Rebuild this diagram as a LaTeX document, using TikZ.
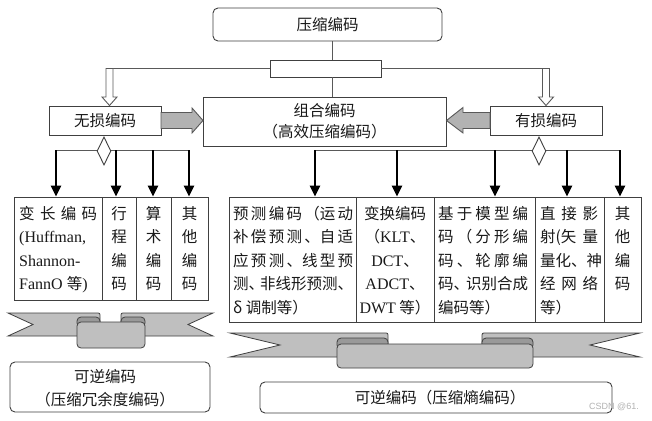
\documentclass[tikz,border=0pt]{standalone}
\usepackage{fontspec}
\setmainfont{Liberation Serif}
\newfontfamily\cjk{Noto Sans CJK SC}
\newfontfamily\wmfont{Liberation Sans}
\usetikzlibrary{arrows.meta,shapes.geometric}
\newcommand\spr[2]{\makebox[#1][l]{#2}}
\newcommand\lat[1]{{\rmfamily\fontsize{16}{23.5}\selectfont #1}}
\begin{document}
\begin{tikzpicture}[x=1pt,y=-1pt,
  every node/.style={font=\cjk\fontsize{15.5}{23.5}\selectfont, text=black!90},
  boxf/.style={draw=black!75, line width=0.9pt, fill=white, inner sep=0pt},
  boxr/.style={boxf, rounded corners=5pt},
  conn/.style={draw=black!65, line width=0.9pt},
  darrow/.style={line width=2.4pt, -{Triangle[width=10pt,length=11pt]}},
  hollow/.style={draw=black!65, line width=0.9pt, fill=white},
  block/.style={draw=black!65, line width=0.9pt, fill=gray!60},
  ribbon/.style={draw=black!75, line width=0.8pt, fill=gray!50},
  ribbonback/.style={draw=black!75, line width=0.8pt, fill=gray!80},
  dia/.style={diamond, draw=black!75, line width=0.9pt, fill=white, minimum width=14pt, minimum height=28pt, inner sep=0pt},
  celltext/.style={inner sep=0pt, anchor=north west, align=left},
  coltext/.style={inner sep=0pt, anchor=north, align=center},
]
\useasboundingbox (0,0) rectangle (652,420);
\fill[white] (0,0) rectangle (652,420);

% top part
\node[boxr, minimum width=229pt, minimum height=33pt] (top) at (327.5,24.5) {压缩编码};
\node[boxf, minimum width=111pt, minimum height=17pt] (mid) at (325.5,68.5) {};
\node[boxf, minimum width=243pt, minimum height=49pt, align=center, font=\cjk\fontsize{15.5}{21}\selectfont] (comb) at (324.5,121.5) {组合编码\\（高效压缩编码）};
\node[boxf, minimum width=112pt, minimum height=29pt] (lossless) at (105,120.5) {无损编码};
\node[boxf, minimum width=112pt, minimum height=29pt] (lossy) at (546,120.5) {有损编码};

\coordinate (vx) at (332,0);
\draw[conn] (top.south -| vx) -- (mid.north -| vx);
\draw[conn] (mid.south -| vx) -- (comb.north -| vx);

\coordinate (hl) at (113,68.5);
\coordinate (hr) at (542.5,68.5);
\draw[conn] (mid.west) -- (hl);
\draw[conn] (mid.east) -- (hr);
\draw[hollow] (106,68.5) -- (113,68.5) -- (113,97) -- (117,97) -- (109.5,105.5) -- (102,97) -- (106,97) -- cycle;
\draw[hollow] (542.5,68.5) -- (549.5,68.5) -- (549.5,97) -- (553.5,97) -- (546,105.5) -- (538.5,97) -- (542.5,97) -- cycle;

% grey block arrows
\draw[block] (161,112.5) -- (192,112.5) -- (192,108) -- (203,120.5) -- (192,133) -- (192,128.5) -- (161,128.5) -- cycle;
\draw[block] (490,112.5) -- (463,112.5) -- (463,107.5) -- (446.5,120.5) -- (463,133) -- (463,128.5) -- (490,128.5) -- cycle;

% branches
\draw[conn] (55,150) -- (189,150);
\draw[conn] (315,150) -- (620,150);
\node[dia] (dl) at (104,151) {};
\node[dia] (dr) at (539,151) {};

% left bottom boxes
\node[boxf, minimum width=88pt, minimum height=103pt] (A) at (58,248.5) {};
\node[boxf, minimum width=34pt, minimum height=103pt] (B) at (119,248.5) {};
\node[boxf, minimum width=35pt, minimum height=103pt] (C) at (153.5,248.5) {};
\node[boxf, minimum width=37pt, minimum height=103pt] (D) at (189.5,248.5) {};

% right bottom boxes
\node[boxf, minimum width=127pt, minimum height=125pt] (E) at (292.5,259.5) {};
\node[boxf, minimum width=78pt, minimum height=125pt] (F) at (395,259.5) {};
\node[boxf, minimum width=101pt, minimum height=125pt] (G) at (484.5,259.5) {};
\node[boxf, minimum width=69pt, minimum height=125pt] (H) at (569.5,259.5) {};
\node[boxf, minimum width=37pt, minimum height=125pt] (I) at (622.5,259.5) {};

% down arrows
\coordinate (xa) at (56,150);
\coordinate (xb) at (116,150);
\coordinate (xc) at (153,150);
\coordinate (xd) at (189,150);
\coordinate (xe) at (315,150);
\coordinate (xf) at (397,150);
\coordinate (xg) at (495,150);
\coordinate (xh) at (567,150);
\coordinate (xi) at (620,150);
\draw[darrow] (xa) -- (xa |- A.north);
\draw[darrow] (xb) -- (xb |- B.north);
\draw[darrow] (xc) -- (xc |- C.north);
\draw[darrow] (xd) -- (xd |- D.north);
\draw[darrow] (xe) -- (xe |- E.north);
\draw[darrow] (xf) -- (xf |- F.north);
\draw[darrow] (xg) -- (xg |- G.north);
\draw[darrow] (xh) -- (xh |- H.north);
\draw[darrow] (xi) -- (xi |- I.north);

% texts in left boxes
\coordinate (ty) at (0,206);
\node[celltext] (tA) at (19,206) {\spr{78pt}{变\hfill 长\hfill 编\hfill 码}\\\lat{(Huffman,}\\\lat{Shannon-}\\\lat{FannO }等\lat{)}};
\node[coltext] (tB) at (B.north |- ty) {行\\程\\编\\码};
\node[coltext] (tC) at (C.north |- ty) {算\\术\\编\\码};
\node[coltext] (tD) at (D.north |- ty) {其\\他\\编\\码};

% texts in right boxes
\node[celltext] (tE) at (233,206) {\spr{120pt}{预\hfill 测\hfill 编\hfill 码\hfill （运\hfill 动}\\\spr{120pt}{补\hfill 偿\hfill 预\hfill 测\hfill 、自\hfill 适}\\\spr{120pt}{应\hfill 预\hfill 测\hfill 、线\hfill 型\hfill 预}\\\spr{120pt}{测、\kern-4pt 非线形预测、}\\δ 调制等）};
\node[coltext] (tF) at (395,206) {变换编码\\（\lat{KLT}、\\\lat{DCT}、\\\lat{ADCT}、\\\lat{DWT} 等）};
\node[celltext] (tG) at (438,206) {\spr{90pt}{基\hfill 于\hfill 模\hfill 型\hfill 编}\\\spr{90pt}{码\hfill （\hfill 分\hfill 形\hfill 编}\\\spr{90pt}{码\hfill 、\hfill 轮\hfill 廓\hfill 编}\\\spr{90pt}{码、\kern-3pt 识别合成}\\编码等）};
\node[celltext] (tH) at (540,206) {\spr{58pt}{直\hfill 接\hfill 影}\\\spr{58pt}{射(矢\hfill 量}\\\spr{58pt}{量\hfill 化\hfill 、神}\\\spr{58pt}{经\hfill 网\hfill 络}\\等）};
\node[coltext] (tI) at (I.north |- ty) {其\\他\\编\\码};

% left ribbon
\draw[ribbon] (8,313) -- (96,313) .. controls (100,313) .. (100,317) -- (100,336) -- (8,336) -- (33,324.5) -- cycle;
\draw[ribbon] (213,313) -- (125,313) .. controls (121,313) .. (121,317) -- (121,336) -- (213,336) -- (188,324.5) -- cycle;
\draw[ribbonback, rounded corners=4pt] (77,317) rectangle (100,327);
\draw[ribbonback, rounded corners=4pt] (121,317) rectangle (145,327);
\draw[ribbon, rounded corners=4pt] (77,322) rectangle (145,348);

% right ribbon
\draw[ribbon] (230,333) -- (384,333) .. controls (388,333) .. (388,337) -- (388,357) -- (230,357) -- (280,345) -- cycle;
\draw[ribbon] (640,333) -- (486,333) .. controls (482,333) .. (482,337) -- (482,357) -- (640,357) -- (590,345) -- cycle;
\draw[ribbonback, rounded corners=4pt] (337,338) rectangle (388,349);
\draw[ribbonback, rounded corners=4pt] (482,338) rectangle (533,349);
\draw[ribbon, rounded corners=4pt] (337,344) rectangle (533,368);

% bottom boxes
\node[boxr, minimum width=200pt, minimum height=50pt] (revL) at (110,387) {};
\node[align=center, inner sep=0pt, font=\cjk\fontsize{15.5}{23}\selectfont] (revLt) at (105,388.5) {可逆编码\\（压缩冗余度编码）};
\node[boxr, minimum width=352pt, minimum height=31pt] (revR) at (436,397.5) {};
\node[inner sep=0pt] (revRt) at (440,397.5) {可逆编码（压缩熵编码）};

% watermark
\node[inner sep=0pt, font=\wmfont\fontsize{9}{10}\selectfont, text=gray!60] (wm) at (614,407) {CSDN @61.};
\end{tikzpicture}
\end{document}
